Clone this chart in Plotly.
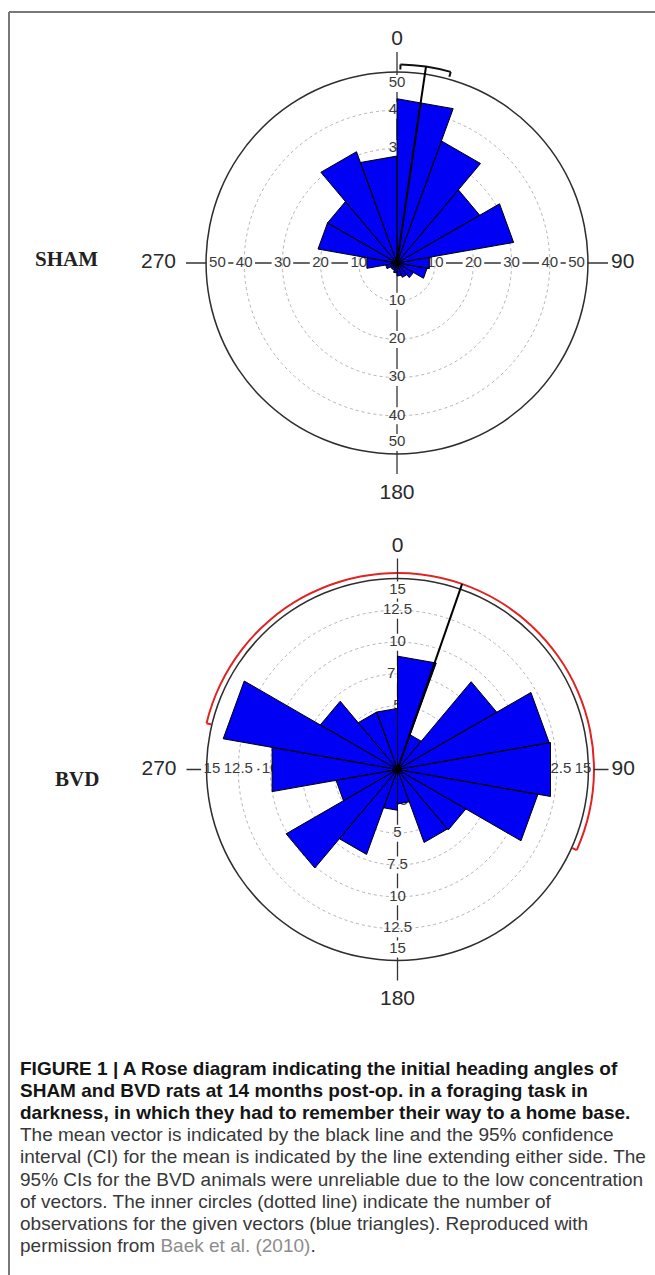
import plotly.graph_objects as go

# ---------------- data ----------------
BIN_CENTERS = [10, 30, 50, 70, 90, 110, 130, 150, 170, 190, 210, 230, 250, 270, 290, 310, 330, 350]
BIN_WIDTH = 20
SHAM_COUNTS = [43, 34, 25, 31, 8.6, 8, 5, 4, 3.4, 2.6, 2, 2, 3, 8, 21, 21, 31, 28]
BVD_COUNTS = [8.9, 2.9, 9.0, 12.1, 12.2, 11.2, 6.2, 6.1, 2.7, 3.2, 7.1, 10.1, 4.9, 10.0, 13.9, 7.0, 4.8, 4.8]

SHAM_RTICKS = [10, 20, 30, 40, 50]
SHAM_RTICK_TEXT = ["10", "20", "30", "40", "50"]
BVD_RTICKS = [2.5, 5, 7.5, 10, 12.5, 15]
BVD_RTICK_TEXT = ["2.5", "5", "7.5", "10", "12.5", "15"]

ANGLE_TICKS = [0, 90, 180, 270]
ANGLE_TICK_TEXT = ["0", "90", "180", "270"]

SHAM_MEAN_ANGLE = 8.4
SHAM_CI = [1.0, 15.7]
BVD_MEAN_ANGLE = 19.2
BVD_CI = [283.6, 114.2]

CAPTION_BOLD = [
    "FIGURE 1 | A Rose diagram indicating the initial heading angles of",
    "SHAM and BVD rats at 14 months post-op. in a foraging task in",
    "darkness, in which they had to remember their way to a home base.",
]
CAPTION_NORMAL = [
    "The mean vector is indicated by the black line and the 95% confidence",
    "interval (CI) for the mean is indicated by the line extending either side. The",
    "95% CIs for the BVD animals were unreliable due to the low concentration",
    "of vectors. The inner circles (dotted line) indicate the number of",
    "observations for the given vectors (blue triangles). Reproduced with",
    "permission from <span style='color:#8c8c8c'>Baek et al. (2010)</span>.",
]

# ---------------- layout geometry ----------------
W, H = 655, 1275
R_OUT_PX = 191.0      # radius of the outer circle (pixels)
R_DOM_PX = 240.0      # radius of the polar domain (pixels)
FONT = "Liberation Sans, Arial, sans-serif"
AXCOL = "#333333"
LBL_SIZE = 15
CHAR_W = 8.3          # approx px per digit at LBL_SIZE
ANG_LABEL_PAD = [1.5, 3, 9, 10]   # extra px between tick end and angle label (0, 90, 180, 270)

fig = go.Figure()


def add_rose(subplot, center, rmax_val, rticks, rtick_text, grid_vals, counts,
             mean_angle, ci, ci_color, ci_outside):
    cx, cy = center
    scale = R_OUT_PX / rmax_val              # px per unit
    dom_max = R_DOM_PX / scale
    tick_end = rmax_val + 20 / scale

    def label_radii(vertical):
        radii = list(rticks[:-1])
        if vertical:
            radii.append(rticks[-1] * 0.94)
        else:
            prev_half = (len(rtick_text[-2]) * CHAR_W / 2) / scale
            last_half = (len(rtick_text[-1]) * CHAR_W / 2) / scale
            radii.append(max(rticks[-1] * 0.94, rticks[-2] + prev_half + last_half + 1.5 / scale))
        return radii

    seg_r, seg_t = [], []
    tr, tt, tx = [], [], []
    for ang in ANGLE_TICKS:
        vertical = ang in (0, 180)
        radii = label_radii(vertical)
        start = 0.0
        for rv, txt in zip(radii, rtick_text):
            if vertical:
                g = 8.5 / scale
            else:
                g = (len(txt) * CHAR_W / 2 + 2.5) / scale
            if rv - g > start:
                seg_r += [start, rv - g, None]
                seg_t += [ang, ang, None]
            start = rv + g
            tr.append(rv); tt.append(ang); tx.append(txt)
        seg_r += [start, tick_end, None]
        seg_t += [ang, ang, None]

    # --- cross axes with gaps at labels
    fig.add_trace(go.Scatterpolar(r=seg_r, theta=seg_t, mode="lines",
                                  line=dict(color=AXCOL, width=1.3),
                                  subplot=subplot, hoverinfo="skip", showlegend=False))
    # --- radial tick labels (4 directions)
    fig.add_trace(go.Scatterpolar(r=tr, theta=tt, text=tx, mode="text",
                                  textposition="middle center",
                                  textfont=dict(family=FONT, size=LBL_SIZE, color="#3a3a3a"),
                                  subplot=subplot, hoverinfo="skip", showlegend=False,
                                  cliponaxis=False))

    # --- angular labels
    fig.add_trace(go.Scatterpolar(r=[tick_end + p / scale for p in ANG_LABEL_PAD],
                                  theta=ANGLE_TICKS, text=ANGLE_TICK_TEXT,
                                  mode="text",
                                  textposition=["top center", "middle right", "bottom center", "middle left"],
                                  textfont=dict(family=FONT, size=21, color="#2a2a2a"),
                                  subplot=subplot, hoverinfo="skip", showlegend=False,
                                  cliponaxis=False))

    # --- rose triangles
    pr, pt = [], []
    for c, v in zip(BIN_CENTERS, counts):
        pr += [0, v, v, 0, None]
        pt += [c, c - BIN_WIDTH / 2, c + BIN_WIDTH / 2, c, None]
    fig.add_trace(go.Scatterpolar(r=pr, theta=pt, mode="lines", fill="toself",
                                  fillcolor="#0000f5", line=dict(color="#000000", width=1),
                                  subplot=subplot, hoverinfo="skip", showlegend=False))

    # --- outer circle (two half rings)
    thick = 1.6 / scale
    fig.add_trace(go.Barpolar(r=[thick, thick], base=[rmax_val - thick / 2] * 2,
                              theta=[90, 270], width=[180, 180],
                              marker=dict(color="#2e2e2e", line=dict(width=0)),
                              subplot=subplot, hoverinfo="skip", showlegend=False))

    # --- CI arc
    lo, hi = ci
    span = (hi - lo) % 360
    mid = lo + span / 2
    ci_r = rmax_val + ci_outside / scale
    cthick = 2.0 / scale
    fig.add_trace(go.Barpolar(r=[cthick], base=[ci_r - cthick / 2], theta=[mid], width=[span],
                              marker=dict(color=ci_color, line=dict(width=0)),
                              subplot=subplot, hoverinfo="skip", showlegend=False))
    tick_in = ci_r - 5 / scale
    fig.add_trace(go.Scatterpolar(r=[ci_r, tick_in, None, ci_r, tick_in],
                                  theta=[lo, lo, None, hi, hi], mode="lines",
                                  line=dict(color=ci_color, width=2),
                                  subplot=subplot, hoverinfo="skip", showlegend=False))

    # --- mean vector
    fig.add_trace(go.Scatterpolar(r=[0, ci_r], theta=[mean_angle, mean_angle], mode="lines",
                                  line=dict(color="#000000", width=2),
                                  subplot=subplot, hoverinfo="skip", showlegend=False))

    polar = dict(
        domain=dict(x=[(cx - R_DOM_PX) / W, (cx + R_DOM_PX) / W],
                    y=[1 - (cy + R_DOM_PX) / H, 1 - (cy - R_DOM_PX) / H]),
        bgcolor="rgba(0,0,0,0)",
        barmode="overlay",
        radialaxis=dict(range=[0, dom_max], tickvals=grid_vals, showticklabels=False,
                        ticks="", showline=False, gridcolor="#b4b4b4", griddash="dot",
                        gridwidth=1),
        angularaxis=dict(rotation=90, direction="clockwise", showgrid=False,
                         showline=False, showticklabels=False, ticks=""),
    )
    return polar


polar1 = add_rose("polar", (397, 263), 50, SHAM_RTICKS, SHAM_RTICK_TEXT,
                  [10, 20, 30, 40], SHAM_COUNTS, SHAM_MEAN_ANGLE, SHAM_CI, "#111111", 7.5)
polar2 = add_rose("polar2", (397.5, 769.5), 15, BVD_RTICKS, BVD_RTICK_TEXT,
                  [2.5, 5, 7.5, 10, 12.5], BVD_COUNTS, BVD_MEAN_ANGLE, BVD_CI, "#e02424", 5.5)

annotations = [
    dict(text="<b>SHAM</b>", x=66.5 / W, y=1 - 259 / H, xref="paper", yref="paper", showarrow=False,
         font=dict(family="Liberation Serif, Times New Roman, serif", size=21, color="#222"),
         xanchor="center", yanchor="middle"),
    dict(text="<b>BVD</b>", x=77 / W, y=1 - 779 / H, xref="paper", yref="paper", showarrow=False,
         font=dict(family="Liberation Serif, Times New Roman, serif", size=21, color="#222"),
         xanchor="center", yanchor="middle"),
]
for i, line in enumerate(CAPTION_BOLD + CAPTION_NORMAL):
    bold = i < len(CAPTION_BOLD)
    yc = 1068 + 22.2 * i
    annotations.append(dict(
        text=("<b>%s</b>" % line) if bold else line,
        x=18 / W, y=1 - yc / H, xref="paper", yref="paper", showarrow=False,
        xanchor="left", yanchor="middle",
        font=dict(family=FONT, size=19, color="#151515" if bold else "#383838")))

shapes = [
    dict(type="line", xref="paper", yref="paper", x0=9 / W, x1=1.0, y0=1 - 12 / H, y1=1 - 12 / H,
         line=dict(color="#777777", width=2)),
    dict(type="line", xref="paper", yref="paper", x0=9 / W, x1=9 / W, y0=0, y1=1 - 12 / H,
         line=dict(color="#777777", width=2)),
]

fig.update_layout(
    width=W, height=H, autosize=False,
    margin=dict(l=0, r=0, t=0, b=0),
    paper_bgcolor="white", plot_bgcolor="white",
    polar=polar1, polar2=polar2,
    annotations=annotations, shapes=shapes,
    showlegend=False,
)

fig.write_html("out.html", config={"displayModeBar": False},
               post_script="document.body.style.margin='0';document.body.style.overflow='hidden';")
